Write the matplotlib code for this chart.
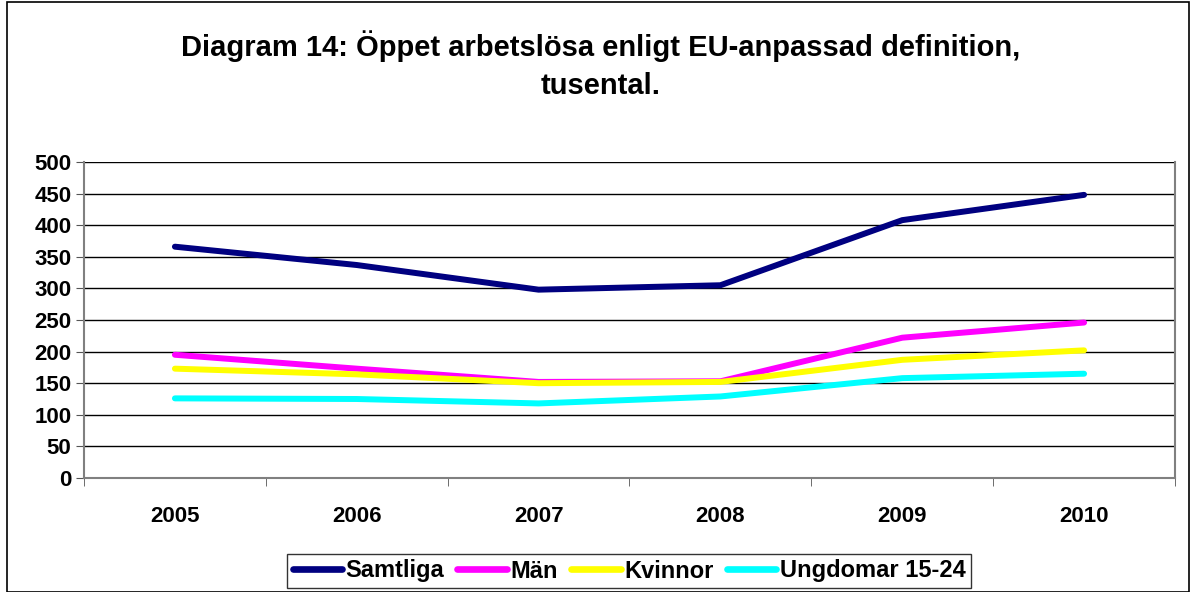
import numpy as np
import matplotlib.pyplot as plt
from matplotlib.patches import Rectangle

plt.rcParams['font.family'] = ['Liberation Sans', 'DejaVu Sans']

# Data (tusental)
years = ['2005', '2006', '2007', '2008', '2009', '2010']
samtliga = [366, 337, 298, 305, 408, 448]
man = [195, 173, 152, 153, 222, 246]
kvinnor = [173, 164, 150, 152, 187, 202]
ungdomar = [126, 125, 118, 129, 158, 165]

series = [
    ('Samtliga', samtliga, '#000080'),
    ('Män', man, '#FF00FF'),
    ('Kvinnor', kvinnor, '#FFFF00'),
    ('Ungdomar 15-24', ungdomar, '#00FFFF'),
]

fig = plt.figure(figsize=(11.92, 5.92), dpi=100)
ax = fig.add_axes([84/1192, 1 - 478/592, (1175 - 84)/1192, (478 - 162)/592])

x = np.arange(len(years))
for name, vals, col in series:
    ax.plot(x, vals, color=col, lw=4.3, label=name, solid_capstyle='round',
            solid_joinstyle='round', zorder=3)

ax.set_xlim(-0.5, len(years) - 0.5)
ax.set_ylim(0, 500)
ax.set_yticks(np.arange(0, 501, 50))
ax.yaxis.grid(True, color='black', lw=1)
ax.set_axisbelow(True)
ax.set_xticks(x)
ax.set_xticklabels(years, fontsize=16, fontweight='bold')
ax.set_xticks(np.arange(-0.5, len(years)), minor=True)
ax.tick_params(axis='x', which='major', length=0, pad=20)
ax.tick_params(axis='x', which='minor', length=6, color='#555555', direction='out')
ax.tick_params(axis='y', length=6, color='#555555', labelsize=16, pad=3)
for lab in ax.get_yticklabels():
    lab.set_fontweight('bold')
for sp in ['left', 'bottom', 'right']:
    ax.spines[sp].set_color('#808080')
    ax.spines[sp].set_linewidth(1.5)
ax.spines['top'].set_visible(False)

fig.text(601/1192, 1 - 46/592, 'Diagram 14: Öppet arbetslösa enligt EU-anpassad definition,',
         ha='center', va='center', fontsize=21, fontweight='bold')
fig.text(601/1192, 1 - 86/592, 'tusental.', ha='center', va='center', fontsize=21, fontweight='bold')

leg = fig.legend(loc='center', bbox_to_anchor=(629/1192, 1 - 571/592), ncol=4,
                 prop={'weight': 'bold', 'size': 17}, frameon=True, fancybox=False,
                 edgecolor='black', handlelength=2.1, handletextpad=0.15,
                 columnspacing=0.55, borderpad=0.25, borderaxespad=0)
leg.get_frame().set_linewidth(1)
for h in leg.get_lines():
    h.set_linewidth(4.8)
    h.set_solid_capstyle('round')

fig.patches.append(Rectangle((7/1192, 0), (1189 - 7)/1192, 1 - 2/592,
                             transform=fig.transFigure, fill=False,
                             edgecolor='black', lw=1.2))

fig.savefig('out.png', dpi=100)
